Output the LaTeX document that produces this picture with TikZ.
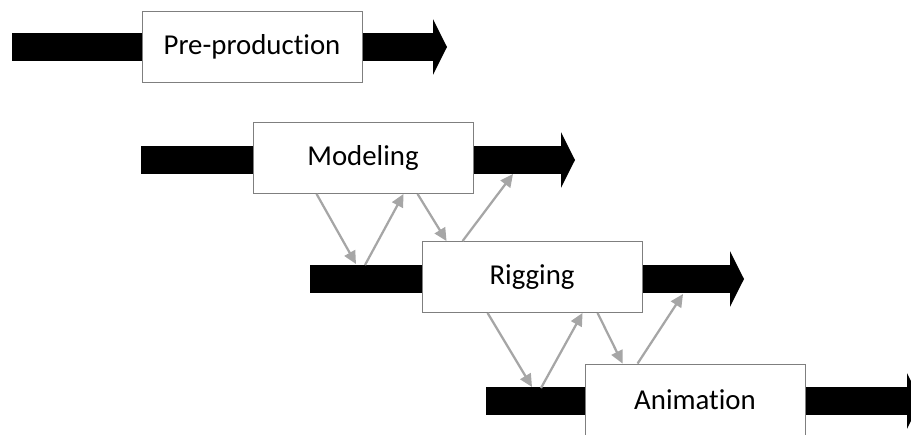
\documentclass[tikz,border=0pt]{standalone}
\usepackage{fontspec}
\setmainfont{Carlito}[Ligatures=NoCommon]
\usetikzlibrary{arrows.meta, calc}
\definecolor{boxline}{RGB}{127,127,127}
\definecolor{feedgray}{RGB}{166,166,166}
\tikzset{
  stage/.style={rectangle, draw=boxline, fill=white, line width=0.6pt,
    minimum width=5.5cm, minimum height=1.775cm, inner sep=0pt,
    font=\fontsize{20.5}{24}\selectfont, align=center},
  bar/.style={draw=black, line width=0.7cm,
    -{Triangle[length=0.35cm, width=1.375cm]}},
  feed/.style={draw=feedgray, line width=1.6pt,
    -{Triangle[length=0.32cm, width=0.3cm]}}
}

\begin{document}
\begin{tikzpicture}[x=0.025cm, y=-0.025cm]
\path[use as bounding box] (0,0) rectangle (911,434);
\clip (0,0) rectangle (911,434);

% Bars behind the stages
\coordinate (preS)   at (12,47);   \coordinate (preE)   at (447,47);
\coordinate (modelS) at (141,160); \coordinate (modelE) at (575,160);
\coordinate (rigS)   at (310,279); \coordinate (rigE)   at (744,279);
\coordinate (animS)  at (486,401); \coordinate (animE)  at (921,401);

\draw[bar] (preS)   -- (preE);
\draw[bar] (modelS) -- (modelE);
\draw[bar] (rigS)   -- (rigE);
\draw[bar] (animS)  -- (animE);

% Stages
\node[stage] (pre)   at (252,46.5)  {Pre-production};
\node[stage] (model) at (363,158)   {Modeling};
\node[stage] (rig)   at (532,277)   {Rigging};
\node[stage] (anim)  at (695,399.5) {Animation};

% ── Modeling <-> Rigging ──────────────────────────────
\coordinate (mDown) at (356,264);
\coordinate (mUp)   at (365,265);
\coordinate (mBack) at (513,174);
\draw[feed] ($(model.south west)+(64,0)$)  -- (mDown);
\draw[feed] (mUp) -- ($(model.south west)+(151,0)$);
\draw[feed] ($(model.south west)+(165,0)$) -- ($(rig.north west)+(25,0)$);
\draw[feed] ($(rig.north west)+(41,0)$)    -- (mBack);

% ── Rigging <-> Animation ─────────────────────────────
\coordinate (rDown) at (532,387);
\coordinate (rUp)   at (541,388);
\coordinate (rBack) at (683,294);
\draw[feed] ($(rig.south west)+(66,0)$)  -- (rDown);
\draw[feed] (rUp) -- ($(rig.south west)+(161,0)$);
\draw[feed] ($(rig.south west)+(176,0)$) -- ($(anim.north west)+(38,0)$);
\draw[feed] ($(anim.north west)+(53,0)$) -- (rBack);

\end{tikzpicture}
\end{document}
